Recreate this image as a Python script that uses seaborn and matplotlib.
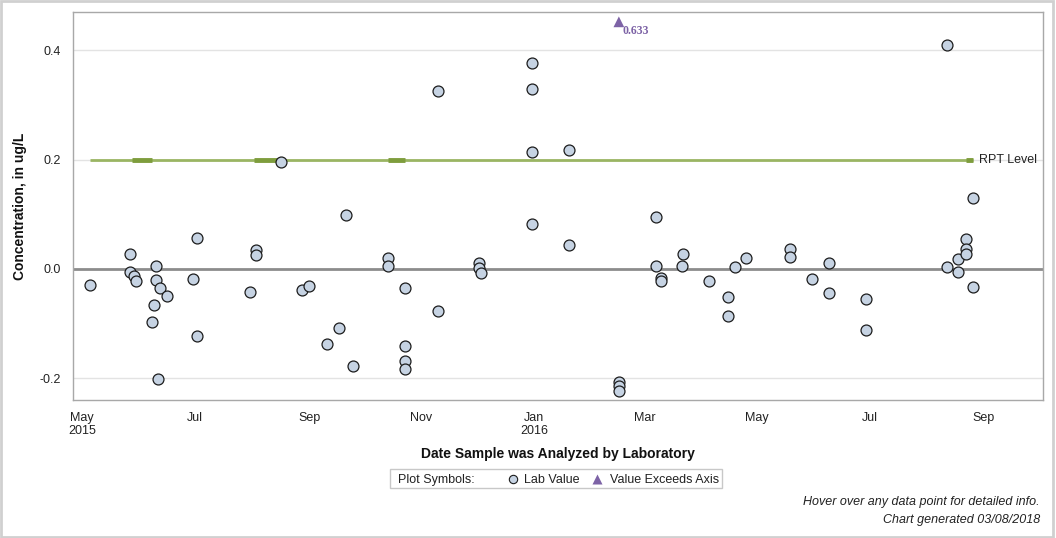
import pandas as pd
import seaborn as sns
import numpy as np
import matplotlib.pyplot as plt
import matplotlib.dates as mdates
from matplotlib.lines import Line2D
from matplotlib.patches import Rectangle

# lab results
lab_dates = ['2015-05-05', '2015-05-27', '2015-05-27', '2015-05-29', '2015-05-30',
             '2015-06-08', '2015-06-09', '2015-06-10', '2015-06-10', '2015-06-11',
             '2015-06-12', '2015-06-16', '2015-06-30', '2015-07-02', '2015-07-02',
             '2015-07-31', '2015-08-03', '2015-08-03', '2015-08-17', '2015-08-28',
             '2015-09-01', '2015-09-11', '2015-09-17', '2015-09-21', '2015-09-25',
             '2015-10-14', '2015-10-14', '2015-10-23', '2015-10-23', '2015-10-23',
             '2015-10-23', '2015-11-10', '2015-11-10', '2015-12-02', '2015-12-02',
             '2015-12-03', '2015-12-31', '2015-12-31', '2015-12-31', '2015-12-31',
             '2016-01-20', '2016-01-20', '2016-02-16', '2016-02-16', '2016-02-16',
             '2016-03-07', '2016-03-07', '2016-03-10', '2016-03-10', '2016-03-21',
             '2016-03-22', '2016-04-05', '2016-04-15', '2016-04-15', '2016-04-19',
             '2016-04-25', '2016-05-19', '2016-05-19', '2016-05-31', '2016-06-09',
             '2016-06-09', '2016-06-29', '2016-06-29', '2016-08-12', '2016-08-12',
             '2016-08-18', '2016-08-18', '2016-08-22', '2016-08-22', '2016-08-22',
             '2016-08-26', '2016-08-26']
lab_values = [-0.030, 0.028, -0.005, -0.014, -0.023,
              -0.098, -0.067, 0.006, -0.021, -0.202,
              -0.035, -0.050, -0.019, 0.056, -0.122,
              -0.043, 0.034, 0.025, 0.196, -0.038,
              -0.032, -0.138, -0.109, 0.098, -0.178,
              0.019, 0.005, -0.035, -0.142, -0.169,
              -0.184, 0.326, -0.077, 0.010, 0.002,
              -0.008, 0.376, 0.330, 0.213, 0.082,
              0.218, 0.043, -0.207, -0.215, -0.224,
              0.094, 0.005, -0.016, -0.022, 0.005,
              0.028, -0.022, -0.052, -0.087, 0.003,
              0.019, 0.036, 0.021, -0.019, 0.010,
              -0.045, -0.056, -0.111, 0.410, 0.003,
              0.018, -0.005, 0.054, 0.037, 0.028,
              0.129, -0.033]

# values above the axis maximum
exceed_dates = ['2016-02-16']
exceed_values = [0.633]
exceed_cap = 0.452

# reporting level line
rpt_level = 0.2
rpt_start = '2015-05-05'
rpt_end = '2016-08-26'
rpt_bold_start = ['2015-05-28', '2015-08-02', '2015-10-14', '2016-08-22']
rpt_bold_end = ['2015-06-08', '2015-08-17', '2015-10-23', '2016-08-26']

tick_dates = ['2015-05-01', '2015-07-01', '2015-09-01', '2015-11-01', '2016-01-01',
              '2016-03-01', '2016-05-01', '2016-07-01', '2016-09-01']
tick_labels = ['May\n2015', 'Jul', 'Sep', 'Nov', 'Jan\n2016', 'Mar', 'May', 'Jul', 'Sep']
y_ticks = [-0.2, 0.0, 0.2, 0.4]
y_tick_labels = ['-0.2', '0.0', '0.2', '0.4']

sns.set_style("white")
plt.rcParams['font.family'] = ['Liberation Sans', 'DejaVu Sans']

W, H = 1056, 538
fig = plt.figure(figsize=(W / 100, H / 100), dpi=100)
ax = fig.add_axes([73 / W, 138 / H, 970 / W, 388 / H])

df = pd.DataFrame({'date': pd.to_datetime(lab_dates), 'value': lab_values})
ex = pd.DataFrame({'date': pd.to_datetime(exceed_dates),
                   'value': [min(v, exceed_cap) for v in exceed_values],
                   'real': exceed_values})

for yv in [-0.2, 0.2, 0.4]:
    ax.axhline(yv, color='#e3e3e3', lw=1, zorder=0)
ax.axhline(0, color='#8c8c8c', lw=2, zorder=1)

d = lambda s: mdates.date2num(pd.Timestamp(s))
ax.plot([d(rpt_start), d(rpt_end)], [rpt_level, rpt_level], color='#9ab563', lw=2, zorder=2,
        solid_capstyle='butt')
for s, e in zip(rpt_bold_start, rpt_bold_end):
    ax.plot([d(s), d(e)], [rpt_level, rpt_level], color='#7e9d3d', lw=3.5, zorder=2,
            solid_capstyle='butt')

sns.scatterplot(data=df, x='date', y='value', s=62, color='#c6d3e3', edgecolor='#1c1c1c',
                linewidth=0.9, zorder=3, ax=ax, legend=False)
sns.scatterplot(data=ex, x='date', y='value', s=60, marker='^', color='#7d63a6',
                edgecolor='none', zorder=3, ax=ax, legend=False)
for _, r in ex.iterrows():
    ax.annotate(f"{r.real:.3f}", (mdates.date2num(r.date), r.value), xytext=(2.5, -6.5),
                textcoords='offset points', fontsize=8.5, fontweight='bold', color='#7d63a6',
                family='Liberation Serif', va='center', ha='left')

ax.text(1.0 - 64 / 970, rpt_level, 'RPT Level', transform=ax.get_yaxis_transform(),
        fontsize=9, color='#222222', va='center', ha='left')

ax.set_xlim(d('2015-04-26'), d('2016-10-03'))
ax.set_ylim(-0.240, 0.470)
ax.set_xticks([d(t) for t in tick_dates])
ax.set_xticklabels(tick_labels, linespacing=1.15)
ax.set_yticks(y_ticks)
ax.set_yticklabels(y_tick_labels)
ax.tick_params(axis='both', direction='out', length=5, width=1, color='#a0a0a0',
               labelsize=9, labelcolor='#222222', pad=3.5)
for sp in ax.spines.values():
    sp.set_color('#a8a8a8')
    sp.set_linewidth(1)

ax.set_xlabel('Date Sample was Analyzed by Laboratory', fontsize=10, fontweight='bold',
              color='#111111')
ax.xaxis.set_label_coords(0.5, -47 / 388)
ax.set_ylabel('Concentration, in ug/L', fontsize=10, fontweight='bold', color='#111111')
ax.yaxis.set_label_coords(-46 / 970, 0.5)

# legend box
fig.add_artist(Rectangle((390 / W, (H - 488) / H), 332 / W, 19 / H, transform=fig.transFigure,
                         facecolor='white', edgecolor='#c8c8c8', lw=1))
ly = (H - 478.5) / H
fig.text(398 / W, ly, 'Plot Symbols:', fontsize=9, color='#222222', va='center_baseline')
fig.add_artist(Line2D([513 / W], [ly], marker='o', markersize=6, markerfacecolor='#c6d3e3',
                      markeredgecolor='#1c1c1c', markeredgewidth=0.8, transform=fig.transFigure))
fig.text(524 / W, ly, 'Lab Value', fontsize=9, color='#222222', va='center_baseline')
fig.add_artist(Line2D([597 / W], [ly], marker='^', markersize=7, markerfacecolor='#7d63a6',
                      markeredgecolor='none', transform=fig.transFigure))
fig.text(610 / W, ly, 'Value Exceeds Axis', fontsize=9, color='#222222', va='center_baseline')

fig.text(1040 / W, (H - 502) / H, 'Hover over any data point for detailed info.', fontsize=9,
         style='italic', color='#222222', ha='right', va='center')
fig.text(1040 / W, (H - 520) / H, 'Chart generated 03/08/2018', fontsize=9,
         style='italic', color='#222222', ha='right', va='center')

# outer frame
fig.add_artist(Rectangle((1 / W, 1 / H), (W - 4) / W, (H - 2) / H, transform=fig.transFigure,
                         facecolor='none', edgecolor='#d0d0d0', lw=2))

fig.savefig('out.png', dpi=100)
